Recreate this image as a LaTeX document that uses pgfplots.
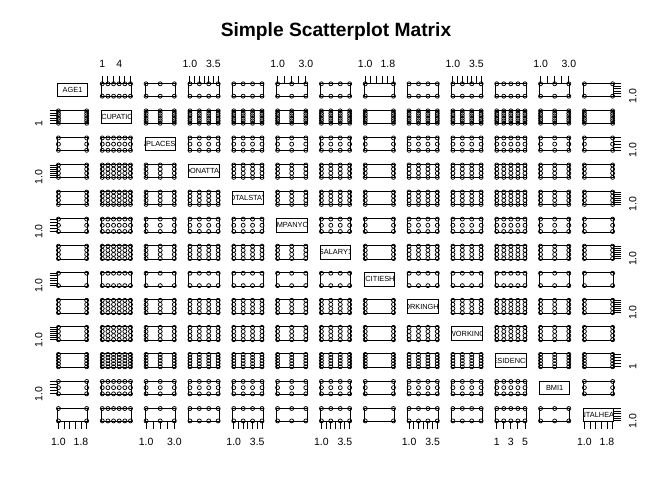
\documentclass[border=0pt]{standalone}
\usepackage{pgfplots}
\pgfplotsset{compat=1.18}
\usepackage{pgfplotstable}
\usepackage{fontspec}
\setmainfont{Liberation Sans}

% observed level combinations (x level, y level)
\pgfplotstableread{
x y
1 1
1 2
1 3
1 4
1 5
1 6
2 1
2 2
2 3
2 4
2 5
2 6
3 1
3 2
3 3
3 4
3 5
3 6
4 1
4 2
4 3
4 4
4 5
4 6
5 1
5 2
5 3
5 4
5 5
5 6
6 1
6 2
6 3
6 4
6 5
6 6
}\gridtab

\newcommand\ticksize{\fontsize{10.5bp}{12bp}\selectfont}
\newcommand\labsize{\fontsize{7.4bp}{8bp}\selectfont}
\newcommand\vtype[1]{\ifcase#1\or A\or O\or B\or C\or C\or B\or C\or A\or C\or C\or R\or B\or A\fi}
\newcommand\vname[1]{\ifcase#1\or AGE1\or OCCUPATION1\or NPLACES1\or DONATTA1\or TOTALSTAY1\or COMPANYON1\or SALARY1\or NCITIESH1\or WORKINGHRS\or WORKING\or RESIDENCE1\or BMI1\or MENTALHEALTH\fi}

\pgfplotsset{
 panel/.style={scale only axis, width=30.5bp, height=13.4bp, anchor=south west,
   axis line style={line width=0.9bp, black},
   tick align=outside, major tick length=7.5bp,
   every tick/.style={black, line width=0.9bp},
   xtick=\empty, ytick=\empty,
   ticklabel style={font=\ticksize, inner sep=0pt, outer sep=0pt, text=black},
   clip=true},
 xvA/.style={xmin=0.96,xmax=2.04,restrict x to domain=0.5:2.5},
 yvA/.style={ymin=0.96,ymax=2.04,restrict y to domain=0.5:2.5},
 xvB/.style={xmin=0.92,xmax=3.08,restrict x to domain=0.5:3.5},
 yvB/.style={ymin=0.92,ymax=3.08,restrict y to domain=0.5:3.5},
 xvC/.style={xmin=0.88,xmax=4.12,restrict x to domain=0.5:4.5},
 yvC/.style={ymin=0.88,ymax=4.12,restrict y to domain=0.5:4.5},
 xvR/.style={xmin=0.84,xmax=5.16,restrict x to domain=0.5:5.5},
 yvR/.style={ymin=0.84,ymax=5.16,restrict y to domain=0.5:5.5},
 xvO/.style={xmin=0.80,xmax=6.20,restrict x to domain=0.5:6.5},
 yvO/.style={ymin=0.80,ymax=6.20,restrict y to domain=0.5:6.5},
 xtA/.style={xtick={1,1.2,1.4,1.6,1.8,2}, xticklabels={1.0,,,,1.8,}},
 ytA/.style={ytick={1,1.2,1.4,1.6,1.8,2}, yticklabels={1.0,,,,,}},
 xtB/.style={xtick={1,1.5,2,2.5,3}, xticklabels={1.0,,,,3.0}},
 ytB/.style={ytick={1,1.5,2,2.5,3}, yticklabels={1.0,,,,}},
 xtC/.style={xtick={1,1.5,2,2.5,3,3.5,4}, xticklabels={1.0,,,,,3.5,}},
 ytC/.style={ytick={1,1.5,2,2.5,3,3.5,4}, yticklabels={1.0,,,,,,}},
 xtO/.style={xtick={1,2,3,4,5,6}, xticklabels={1,,,4,,}},
 ytO/.style={ytick={1,2,3,4,5,6}, yticklabels={1,,,,,}},
 xtR/.style={xtick={1,2,3,4,5}, xticklabels={1,,3,,5}},
 ytR/.style={ytick={1,2,3,4,5}, yticklabels={1,,,,}},
 topt/.style={xtick pos=right, xticklabel pos=right, xticklabel style={anchor=base}, xticklabel shift=8.5bp},
 bott/.style={xtick pos=left, xticklabel pos=left, xticklabel style={anchor=base}, xticklabel shift=16.75bp},
 leftt/.style={ytick pos=left, yticklabel pos=left, yticklabel style={rotate=90, anchor=base}, yticklabel shift=7.5bp},
 rightt/.style={ytick pos=right, yticklabel pos=right, yticklabel style={rotate=90, anchor=base}, yticklabel shift=15.1bp},
}

\newcommand\offcontent{\addplot[only marks, mark=o, mark size=2bp, black, mark options={line width=0.75bp}] table[x=x,y=y] {\gridtab};}
\newcommand\diagcontent{\begin{scope}
 \clip (rel axis cs:0,0) rectangle (rel axis cs:1,1);
 \node[font=\labsize, text=black, inner sep=0pt] at (rel axis cs:0.5,0.5) {\vname{\i}};
 \end{scope}}
\newcommand\panel[1]{\begin{axis}[#1]\content\end{axis}}

\begin{document}
\begin{tikzpicture}
\path[use as bounding box] (0,0) rectangle (672bp,480bp);
\node[font=\fontsize{19.2bp}{22bp}\selectfont\bfseries, anchor=base] at (336bp,443.5bp) {Simple Scatterplot Matrix};
\foreach \i in {1,...,13}{%
 \foreach \j in {1,...,13}{%
  \pgfmathsetmacro\px{57.3+(\j-1)*43.83}%
  \pgfmathsetmacro\py{480-(83.3+(\i-1)*27.06)-13.4}%
  \def\extra{}%
  \ifnum\i=1 \ifodd\j\else\edef\extra{\extra,xt\vtype{\j},topt}\fi\fi
  \ifnum\i=13 \ifodd\j\edef\extra{\extra,xt\vtype{\j},bott}\fi\fi
  \ifnum\j=1 \ifodd\i\else\edef\extra{\extra,yt\vtype{\i},leftt}\fi\fi
  \ifnum\j=13 \ifodd\i\edef\extra{\extra,yt\vtype{\i},rightt}\fi\fi
  \ifnum\i=\j \let\content\diagcontent\else\let\content\offcontent\fi
  \edef\opts{panel,xv\vtype{\j},yv\vtype{\i},at={(\px bp,\py bp)}\extra}%
  \expandafter\panel\expandafter{\opts}%
 }%
}
\end{tikzpicture}
\end{document}
